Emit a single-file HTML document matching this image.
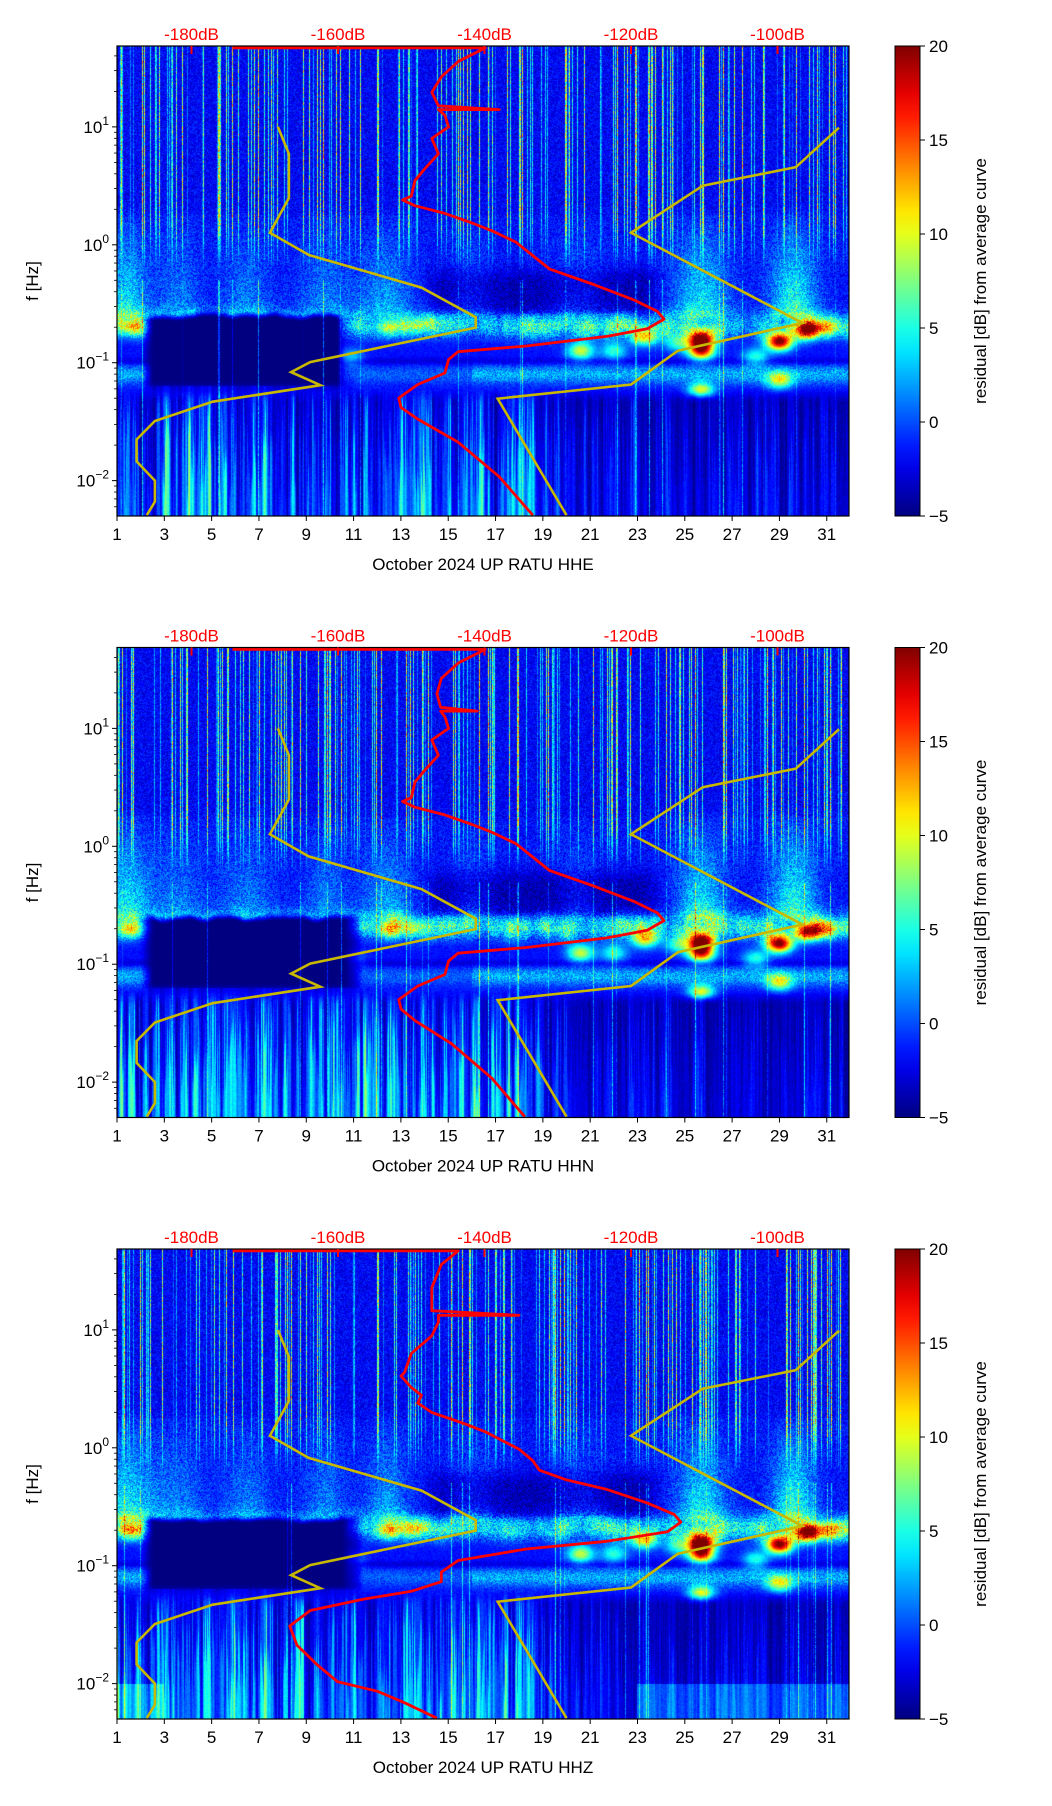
<!DOCTYPE html>
<html><head><meta charset="utf-8">
<style>
html,body{margin:0;padding:0;background:#fff;}
#page{position:relative;width:1052px;height:1806px;overflow:hidden;background:#fff;font-family:"Liberation Sans","DejaVu Sans",sans-serif;}
canvas{position:absolute;}
svg{position:absolute;left:0;top:0;}
</style></head>
<body>
<div id="page">
<canvas id="hm0" width="732" height="470" style="left:117px;top:46px"></canvas>
<canvas id="hm1" width="732" height="470" style="left:117px;top:647.5px"></canvas>
<canvas id="hm2" width="732" height="470" style="left:117px;top:1249px"></canvas>
<svg id="ov" width="1052" height="1806"></svg>
</div>
<script>
// ---- data ----
const xTickDays = [1,3,5,7,9,11,13,15,17,19,21,23,25,27,29,31];
const dbTicks = [-180,-160,-140,-120,-100];
const yDecades = [1,0,-1,-2];
const cbTicks = [20,15,10,5,0,-5];
const components = ['HHE','HHN','HHZ'];
const nlnmDb = [-168.2,-166.7,-166.7,-169.3,-164.0,-148.6,-141.2,-141.2,-163.8,-166.4,-162.4,-177.1,-185.0,-187.5,-187.5,-185.0,-185.0,-186.1];
const nlnmLf = [1.0,0.772,0.397,0.103,-0.086,-0.363,-0.614,-0.702,-0.995,-1.080,-1.191,-1.331,-1.494,-1.651,-1.837,-2.0,-2.179,-2.293];
const nhnmDb = [-91.6,-97.5,-110.2,-120.0,-96.6,-113.6,-120.0,-138.2,-128.8];
const nhnmLf = [0.993,0.658,0.501,0.103,-0.663,-0.898,-1.185,-1.305,-2.293];
const redEDb = [-174.4,-139.9,-143.6,-145.9,-147.2,-146.3,-138.0,-146.3,-145.4,-144.9,-147.2,-146.3,-148.2,-149.5,-150.0,-151.2,-149.5,-145.4,-141.7,-139.0,-135.7,-133.4,-131.1,-125.1,-119.6,-116.4,-115.5,-117.8,-123.3,-134.3,-143.6,-144.9,-145.4,-149.1,-151.7,-151.4,-149.1,-143.6,-138.0,-133.4];
const redELf = [1.67,1.67,1.554,1.424,1.293,1.179,1.147,1.147,1.098,1.0,0.902,0.772,0.641,0.544,0.413,0.380,0.332,0.266,0.185,0.120,0.022,-0.092,-0.206,-0.337,-0.467,-0.565,-0.630,-0.712,-0.777,-0.858,-0.907,-0.973,-1.087,-1.185,-1.299,-1.380,-1.478,-1.674,-1.967,-2.293];
const redNDb = [-174.4,-139.9,-143.6,-145.9,-146.5,-146.0,-141.0,-146.0,-145.4,-144.9,-147.2,-146.3,-148.2,-149.5,-150.0,-151.2,-149.5,-145.4,-141.7,-139.0,-135.7,-133.4,-131.1,-125.1,-119.6,-116.4,-115.5,-117.8,-123.3,-134.3,-143.6,-144.9,-145.4,-149.1,-151.7,-151.4,-149.5,-144.5,-139.0,-134.5];
const redNLf = redELf;
const redZDb = [-174.4,-143.6,-145.9,-147.2,-147.2,-135.3,-146.3,-146.3,-147.2,-150.0,-150.9,-151.4,-150.0,-148.6,-149.1,-147.2,-142.6,-139.9,-135.3,-133.4,-132.5,-128.8,-123.3,-117.8,-114.1,-113.2,-115.0,-123.3,-134.3,-143.6,-145.9,-145.9,-150.0,-156.4,-163.8,-166.6,-165.6,-162.9,-160.1,-154.6,-150.9,-146.5];
const redZLf = [1.67,1.67,1.554,1.359,1.163,1.124,1.124,1.065,0.95,0.8,0.641,0.609,0.511,0.446,0.380,0.299,0.201,0.136,-0.011,-0.109,-0.190,-0.272,-0.353,-0.467,-0.565,-0.630,-0.712,-0.793,-0.858,-0.956,-1.054,-1.136,-1.217,-1.282,-1.380,-1.511,-1.674,-1.837,-1.983,-2.065,-2.163,-2.293];
const plumeDay = [1.4,3.6,6.5,9.8,12.4,16.0,20.5,25.7,29.6];
const plumeAmp = [6,3,3,3,4,2,2,6,7];
const hotDay = [25.7,25.7,25.7,29.0,30.2,29.0,23.3,20.6,22.0,24.7,12.5,1.6,9.6,10.8,5.5,28.0,31.0,13.6];
const hotLf  = [-0.8,-0.9,-1.25,-0.82,-0.72,-1.15,-0.78,-0.9,-0.9,-0.83,-0.7,-0.7,-0.9,-0.95,-0.92,-0.95,-0.7,-0.68];
const hotAmp = [22,18,14,22,18,10,12,11,7,7,8,9,7,6,5,7,8,6];

const PL=117, PW=732, PH=470, D0=1, D1=31.94, LF0=-2.3, LF1=1.686, DB0=-190.17, DB1=-90.24;
const tops=[46,647.5,1249];
const xDay=d=>PL+(d-D0)/(D1-D0)*PW;
const xDb=db=>PL+(db-DB0)/(DB1-DB0)*PW;
const yLf=(lf,t)=>t+(LF1-lf)/(LF1-LF0)*PH;

function jet(t){t=Math.max(0,Math.min(1,t));const c=x=>Math.round(255*Math.max(0,Math.min(1,x)));
 return [c(1.5-Math.abs(4*t-3)),c(1.5-Math.abs(4*t-2)),c(1.5-Math.abs(4*t-1))];}
const fract=x=>x-Math.floor(x);
const h1=n=>fract(Math.sin(n*12.9898)*43758.5453);
const h2=(a,b)=>fract(Math.sin(a*12.9898+b*78.233)*43758.5453);
function vn(x,s){const i=Math.floor(x),f=x-i,u=f*f*(3-2*f);return h1(i+s)*(1-u)+h1(i+1+s)*u;}
const ss=(a,b,x)=>{let t=Math.max(0,Math.min(1,(x-a)/(b-a)));return t*t*(3-2*t);};

function drawHeat(ci,seed){
 const cv=document.getElementById('hm'+ci),ctx=cv.getContext('2d'),img=ctx.createImageData(PW,PH),d=img.data;
 const colSp=[],colLow=[],colTop=[];
 for(let px=0;px<PW;px++){colSp.push(h1(px*3.1+seed+0.37));
  colLow.push(Math.pow(0.6*vn(px/4,seed+11)+0.4*vn(px/1.6,seed+57),1.3));
  colTop.push(-1.25-0.9*h1(px*0.71+seed+3));}
 for(let px=0;px<PW;px++){
  const day=D0+(px+0.5)/PW*(D1-D0);
  let pl=0;for(let k=0;k<plumeDay.length;k++){const z=(day-plumeDay[k])/(0.8+0.4*vn(k,seed));pl+=plumeAmp[k]*Math.exp(-z*z);}
  const edgeN=vn(day*1.7,seed+21)-0.5;
  const blobD=ss(1.9,2.6,day)*(1-ss(10.2+edgeN,11.2+edgeN,day));
  const trough=ss(13.5,15,day)*(1-ss(23,24.5,day));
  const dayW=day<18?1:(day<20?1-0.6*(day-18)/2:0.4);
  const bandMod=vn(day*1.4,seed+3)*0.6+vn(day*3.5,seed+9)*0.4;
  const bandC=-0.68+0.04*edgeN;
  for(let py=0;py<PH;py++){
   const lf=LF1-(py+0.5)/PH*(LF1-LF0);
   const n=h2(px+seed,py);
   let v=(lf>0.25?-2.0:-1.6)+(n-0.5)*3.2*(lf>-0.8?1:0.4);
   const ramp=Math.max(0,Math.min(1,(0.35-lf)/0.9))*(1-ss(-0.58,-0.66,lf));
   v+=pl*ramp*(0.8+0.4*n);
   v-=2.2*trough*ss(-0.1,-0.35,lf)*(1-ss(-0.55,-0.62,lf));
   v+=(2+8*bandMod)*Math.exp(-Math.pow((lf-bandC)/0.1,2))*(0.7+0.6*n);
   v+=(day>16||day<2.5?4:2)*Math.exp(-Math.pow((lf+1.1)/0.08,2))*(0.6+0.8*n);
   v-=1.5*Math.exp(-Math.pow((lf+0.99)/0.03,2));
   for(let k=0;k<hotDay.length;k++){const a=(day-hotDay[k])/0.55,b=(lf-hotLf[k])/0.075;const e=a*a+b*b;if(e<9)v+=hotAmp[k]*Math.exp(-e);}
   if(lf<-1.2){
    const w=ss(-1.2,-1.35,lf);
    const vert=ss(colTop[px]+0.15,colTop[px]-0.15,lf)*0.5+0.5;
    v=v*(1-w)+w*(-4.8+colLow[px]*14*dayW*vert+(n-0.5)*1.2);
    if(ci===2&&lf<-2&&(day<3||day>23))v+=3;
   }
   const blobLf=ss(-0.56+0.05*edgeN,-0.64+0.05*edgeN,lf)*(1-ss(-1.15,-1.3,lf));
   const bl=blobD*blobLf;
   if(bl>0)v=v*(1-bl)+(-5)*bl+(lf<-1.2?bl*colLow[px]*4:0);
   const s=colSp[px];
   const spW=ss(-0.3,0.3,lf);
   if(s>0.78){const amp=(s-0.78)/0.22;v+=spW*(2+amp*15*(0.3+0.7*h2(py,px+seed*3)));}
   if(s>0.96&&lf<=-0.3)v+=(s-0.96)/0.04*8*(0.5+0.5*n);
   const c=jet((v+5)/25),o=(py*PW+px)*4;
   d[o]=c[0];d[o+1]=c[1];d[o+2]=c[2];d[o+3]=255;
  }
 }
 ctx.putImageData(img,0,0);
}
[0,1,2].forEach(i=>drawHeat(i,i*100+7));

const NS='http://www.w3.org/2000/svg',ov=document.getElementById('ov');
function mk(tag,attrs,parent,txt){const e=document.createElementNS(NS,tag);for(const k in attrs)e.setAttribute(k,attrs[k]);if(txt!==undefined)e.textContent=txt;(parent||ov).appendChild(e);return e;}
const defs=mk('defs',{});
const grad=mk('linearGradient',{id:'jetg',x1:'0',y1:'1',x2:'0',y2:'0'},defs);
for(let i=0;i<=20;i++){const c=jet(i/20);mk('stop',{offset:(i*5)+'%','stop-color':'rgb('+c.join(',')+')'},grad);}

const redSets=[[redEDb,redELf],[redNDb,redNLf],[redZDb,redZLf]];
tops.forEach((t,pi)=>{
 const g=mk('g',{});
 
 
 const B=t+PH;
 const pts=(dbs,lfs)=>dbs.map((db,i)=>xDb(db).toFixed(1)+','+yLf(lfs[i],t).toFixed(1)).join(' ');
 const cp=mk('clipPath',{id:'clip'+pi},defs);mk('rect',{x:PL,y:t,width:PW,height:PH},cp);
 const lo=mk('polyline',{points:pts(nlnmDb,nlnmLf),fill:'none',stroke:'#c8b800','stroke-width':2.6,'clip-path':'url(#clip'+pi+')'},g);
 
 
 const hi=mk('polyline',{points:pts(nhnmDb,nhnmLf),fill:'none',stroke:'#c8b800','stroke-width':2.6,'clip-path':'url(#clip'+pi+')'},g);
 
 
 const rs=redSets[pi];
 const rl=mk('polyline',{points:pts(rs[0],rs[1]),fill:'none',stroke:'#ff0000','stroke-width':2.8,'stroke-linejoin':'round','clip-path':'url(#clip'+pi+')'},g);
 
 
 const fr=mk('rect',{x:PL,y:t,width:PW,height:PH,fill:'none',stroke:'#000','stroke-width':1.2},g);
 
 
 xTickDays.forEach(dd=>{const x=xDay(dd);
  mk('line',{x1:x,y1:B,x2:x,y2:B+5,stroke:'#000','stroke-width':1},g);
  const tx=mk('text',{x:x,y:B+24,'font-size':17,'text-anchor':'middle',fill:'#000'},g,String(dd));
  
  });
 const xt=mk('text',{x:483,y:B+54,'font-size':17,'text-anchor':'middle',fill:'#000','xml:space':'preserve'},g,'October 2024 UP RATU  '+components[pi]);
 
 
 dbTicks.forEach(db=>{const x=xDb(db);
  mk('line',{x1:x,y1:t,x2:x,y2:t+8,stroke:'#ff0000','stroke-width':2},g);
  const tx=mk('text',{x:x,y:t-6,'font-size':17,'text-anchor':'middle',fill:'#ff0000'},g,db+'dB');
  
  });
 for(let dcd=-3;dcd<=1;dcd++){for(let m=1;m<=9;m++){const lf=dcd+Math.log10(m);if(lf<LF0||lf>LF1)continue;const y=yLf(lf,t);
  mk('line',{x1:PL-(m===1?5:3),y1:y,x2:PL,y2:y,stroke:'#000','stroke-width':m===1?1:0.8},g);}}
 yDecades.forEach(dc=>{const y=yLf(dc,t);
  const tx=mk('text',{x:PL-8,y:y+6,'font-size':17,'text-anchor':'end',fill:'#000'},g);
  
  
  mk('tspan',{},tx,'10');mk('tspan',{'font-size':12,dy:-8},tx,dc<0?'\u2212'+(-dc):String(dc));});
 const yt=mk('text',{x:0,y:0,'font-size':17,'text-anchor':'middle',fill:'#000',transform:'translate(38,'+(t+PH/2)+') rotate(-90)'},g,'f [Hz]');
 
 
 const cb=mk('rect',{x:895,y:t,width:25,height:PH,fill:'url(#jetg)',stroke:'#000','stroke-width':1},g);
 
 
 cbTicks.forEach(v=>{const y=t+(20-v)/25*PH;
  mk('line',{x1:920,y1:y,x2:925,y2:y,stroke:'#000','stroke-width':1},g);
  const tx=mk('text',{x:929,y:y+6,'font-size':17,fill:'#000'},g,v<0?'\u2212'+(-v):String(v));
  
  });
 const ct=mk('text',{x:0,y:0,'font-size':17,'text-anchor':'middle',fill:'#000',transform:'translate(986,'+(t+PH/2)+') rotate(-90)'},g,'residual [dB] from average curve');
 
 
});
</script>
</body></html>
